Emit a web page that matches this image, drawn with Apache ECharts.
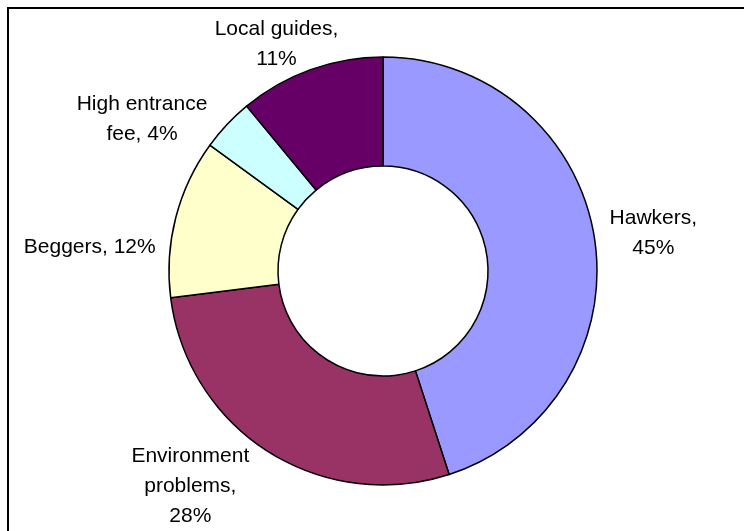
<!DOCTYPE html>
<html>
<head>
<meta charset="utf-8">
<script src="https://cdn.jsdelivr.net/npm/echarts@6/dist/echarts.min.js"></script>
<style>
  html, body { margin: 0; padding: 0; background: #fff; }
  #chart { width: 744px; height: 531px; }
</style>
</head>
<body>
<div id="chart"></div>
<script>
// Complaint categories, listed clockwise from 12 o'clock
const categories = ['Hawkers', 'Environment problems', 'Beggers', 'High entrance fee', 'Local guides'];
const shares = [45, 28, 12, 4, 11];
// How each label's name wraps
const labelNames = ['Hawkers,\n', 'Environment\nproblems,\n', 'Beggers, ', 'High entrance\nfee, ', 'Local guides,\n'];
const sliceColors = ['#9999FF', '#993366', '#FFFFCC', '#CCFFFF', '#660066'];
// Label offsets from the middle of each slice's outer arc
const labelNudge = [[59, -4], [-78, 35], [-86, 29], [-85, -5], [-34, -25]];

const CX = 383, CY = 271, R_IN = 105, R_OUT = 214;
const total = shares.reduce((a, b) => a + b, 0);

// middle angle of each slice, clockwise from the top
const midAngles = [];
let acc = 0;
shares.forEach(v => {
  midAngles.push(Math.PI / 2 - 2 * Math.PI * (acc + v / 2) / total);
  acc += v;
});

const chart = echarts.init(document.getElementById('chart'));
chart.setOption({
  backgroundColor: '#ffffff',
  animation: false,
  graphic: [{
    type: 'rect',
    shape: { x: 8, y: 8, width: 800, height: 600 },
    style: { fill: 'none', stroke: '#000', lineWidth: 2 },
    silent: true
  }],
  series: [{
    type: 'pie',
    center: [CX, CY],
    radius: [R_IN, R_OUT],
    startAngle: 90,
    clockwise: true,
    avoidLabelOverlap: false,
    itemStyle: { borderColor: '#000', borderWidth: 1.5 },
    emphasis: { disabled: true },
    label: {
      show: true,
      position: 'outside',
      fontFamily: 'Liberation Sans, Arial, sans-serif',
      fontSize: 21,
      lineHeight: 30,
      color: '#000',
      align: 'center',
      formatter: p => labelNames[p.dataIndex] + p.value + '%'
    },
    labelLine: { show: false, length: 0, length2: 0 },
    labelLayout: params => {
      const i = params.dataIndex;
      const a = midAngles[i];
      return {
        x: CX + R_OUT * Math.cos(a) + labelNudge[i][0],
        y: CY - R_OUT * Math.sin(a) + labelNudge[i][1],
        align: 'center',
        verticalAlign: 'middle'
      };
    },
    data: categories.map((name, i) => ({
      name: name,
      value: shares[i],
      itemStyle: { color: sliceColors[i] }
    }))
  }]
});
</script>
</body>
</html>
